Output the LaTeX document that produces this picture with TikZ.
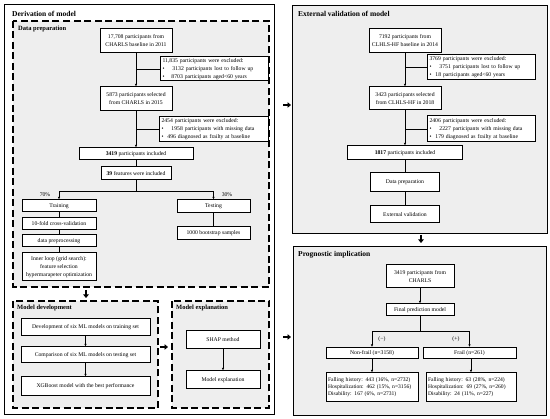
\documentclass[tikz,border=0pt]{standalone}
\usepackage{fontspec}
\setmainfont{Liberation Serif}
\usetikzlibrary{arrows.meta,calc}
\definecolor{panel}{HTML}{EEEEEE}
\newcommand{\bxfont}{\fontsize{5.7}{8}\selectfont}
\newcommand{\bxsfont}{\fontsize{5.6}{7}\selectfont}
\tikzset{
 box/.style={draw, line width=1pt, fill=white, align=center, inner sep=1pt, font=\bxfont},
 exbox/.style={box, align=left, inner xsep=2.5pt},
 dbox/.style={draw, dash pattern=on 7pt off 3.5pt, line width=1.2pt, fill=panel},
 sbox/.style={draw, line width=0.8pt},
 conn/.style={line width=0.5pt},
 arr/.style={conn, -{Latex[length=2.5pt,width=2.2pt]}},
 fat/.style={line width=2.4pt, -{Triangle[width=5.5pt,length=3.5pt]}},
 ttl/.style={anchor=west, font=\fontsize{7.5}{9}\selectfont\bfseries, inner sep=0pt},
 sttl/.style={anchor=west, font=\fontsize{6.5}{8}\selectfont\bfseries, inner sep=0pt},
 lbl/.style={font=\bxfont, inner sep=0pt},
}
\begin{document}
\begin{tikzpicture}[x=1pt,y=-1pt]
\fill[white] (0,0) rectangle (550,419);
\useasboundingbox (0,0) rectangle (550,419);
% section frames
\draw[sbox] (4,4) rectangle (274,414);
\draw[dbox] (13,21) rectangle (269,287);
\draw[dbox] (13,301) rectangle (158,408);
\draw[dbox] (172,301) rectangle (269,408);
\draw[sbox, fill=panel] (292,5) rectangle (547,233);
\draw[sbox, fill=panel] (293,246) rectangle (546,415);
% titles
\node[ttl] (t1) at (12,14) {Derivation of model};
\node[sttl] (t2) at (18,29) {Data preparation};
\node[sttl] (t3) at (17,308) {Model development};
\node[sttl] (t4) at (176,308) {Model explanation};
\node[ttl] (t5) at (298,14) {External validation of model};
\node[ttl] (t6) at (298,255) {Prognostic implication};
% ---------- data preparation ----------
\node[box, minimum width=72pt, minimum height=24pt] (n1) at (136,41) {17,708 participants from\\CHARLS baseline in 2011};
\node[exbox, text width=103pt, minimum height=24pt] (ex1) at (214,69) {11,835 participants were excluded:\\\textbullet\hspace{8pt}3132 participants lost to follow up\\\textbullet\hspace{7pt}8703 participants aged<60 years};
\node[box, minimum width=72pt, minimum height=24pt] (n2) at (136,99) {5873 participants selected\\from CHARLS in 2015};
\node[exbox, text width=104pt, minimum height=25pt] (ex2) at (213.5,129.5) {2454 participants were excluded:\\\textbullet\hspace{8pt}1958 participants with missing data\\\textbullet\hspace{4pt}496 diagnosed as frailty at baseline};
\node[box, minimum width=114pt, minimum height=12pt] (n3) at (136,154) {\textbf{3419} participants included};
\node[box, minimum width=70pt, minimum height=13pt] (n4) at (136,173.5) {\textbf{39} features were included};
\coordinate (s1) at (136,191);
\node[box, minimum width=74pt, minimum height=12pt] (train) at (59,206) {Training};
\node[box, minimum width=74pt, minimum height=12pt] (cv) at (59,224) {10-fold cross-validation};
\node[box, minimum width=74pt, minimum height=12pt] (pre) at (59,241) {data preprocessing};
\node[box, minimum width=74pt, minimum height=28pt] (inner) at (59,267) {Inner loop (grid search):\\feature selection\\hypermarapeter optimization};
\node[box, minimum width=73pt, minimum height=13pt] (test) at (213.5,206.5) {Testing};
\node[box, minimum width=73pt, minimum height=13pt] (boot) at (213.5,233.5) {1000 bootstrap samples};
\node[lbl] (p70) at (45,195) {70\%};
\node[lbl] (p30) at (227,195) {30\%};
\draw[arr] (n1) -- (n2);
\draw[conn] (ex1.west) -- (ex1.west -| n1.south);
\draw[arr] (n2) -- (n3);
\draw[conn] (ex2.west) -- (ex2.west -| n2.south);
\draw[conn] (n3) -- (n4);
\draw[conn] (n4) -- (s1);
\draw[arr] (s1) -| (train);
\draw[arr] (s1) -| (test);
\draw[conn] (train) -- (cv);
\draw[conn] (cv) -- (pre);
\draw[conn] (pre) -- (inner);
\draw[conn] (test) -- (boot);
% ---------- model development ----------
\node[box, minimum width=129pt, minimum height=17pt] (md1) at (85.5,327.5) {Development of six ML models on training set};
\node[box, minimum width=129pt, minimum height=16pt] (md2) at (85.5,355) {Comparison of six ML models on testing set};
\node[box, minimum width=129pt, minimum height=19pt] (md3) at (85.5,386.5) {XGBoost model with the best performance};
\draw[arr] (md1) -- (md2);
\draw[arr] (md2) -- (md3);
% ---------- model explanation ----------
\node[box, minimum width=74pt, minimum height=18pt] (shap) at (223,340) {SHAP method};
\node[box, minimum width=74pt, minimum height=18pt] (mexp) at (223,380) {Model explanation};
\draw[arr] (shap) -- (mexp);
% ---------- external validation ----------
\node[box, minimum width=72pt, minimum height=24pt] (r1) at (405,41) {7192 participants from\\CLHLS-HF baseline in 2014};
\node[exbox, text width=103pt, minimum height=25pt] (rex1) at (481,67.5) {3769 participants were excluded:\\\textbullet\hspace{8pt}3751 participants lost to follow up\\\textbullet\hspace{4pt}18 participants aged<60 years};
\node[box, minimum width=72pt, minimum height=23pt] (r2) at (405,98.5) {3423 participants selected\\from CLHLS-HF in 2018};
\node[exbox, text width=103pt, minimum height=26pt] (rex2) at (481,129) {2406 participants were excluded:\\\textbullet\hspace{8pt}2227 participants with missing data\\\textbullet\hspace{4pt}179 diagnosed as frailty at baseline};
\node[box, minimum width=115pt, minimum height=14pt] (r3) at (405,153) {\textbf{1817} participants included};
\node[box, minimum width=69pt, minimum height=19pt] (r4) at (405,182.5) {Data preparation};
\node[box, minimum width=69pt, minimum height=17pt] (r5) at (405,214.5) {External validation};
\draw[arr] (r1) -- (r2);
\draw[conn] (rex1.west) -- (rex1.west -| r1.south);
\draw[arr] (r2) -- (r3);
\draw[conn] (rex2.west) -- (rex2.west -| r2.south);
\draw[conn] (r3) -- (r4);
\draw[conn] (r4) -- (r5);
% ---------- prognostic implication ----------
\node[box, minimum width=68pt, minimum height=23pt] (p1) at (420,276.5) {3419 participants from\\CHARLS};
\node[box, minimum width=68pt, minimum height=12pt] (p2) at (420,310) {Final prediction model};
\coordinate (s2) at (420,331);
\node[box, minimum width=92pt, minimum height=11pt] (nf) at (372,353) {Non-frail (n=3158)};
\node[box, minimum width=93pt, minimum height=11pt] (fr) at (469.5,353) {Frail (n=261)};
\node[exbox, font=\bxsfont, text width=88pt, inner xsep=2pt, minimum height=29pt] (nfd) at (372,387.5) {Falling history: 443 (16\%, n=2732)\\Hospitalization: 462 (15\%, n=3156)\\Disability: 167 (6\%, n=2731)};
\node[exbox, font=\bxsfont, text width=86pt, inner xsep=2pt, minimum height=29pt] (frd) at (471,387.5) {Falling history: 63 (28\%, n=224)\\Hospitalization: 69 (27\%, n=260)\\Disability: 24 (11\%, n=227)};
\node[lbl] (neg) at (382,339) {(−)};
\node[lbl] (pos) at (456,339) {(+)};
\draw[arr] (p1) -- (p2);
\draw[conn] (p2) -- (s2);
\draw[arr] (s2) -| (nf);
\draw[arr] (s2) -| (fr);
\draw[arr] (nf) -- (nfd);
\draw[arr] (fr.south -| frd.north) -- (frd);
% ---------- fat arrows between sections ----------
\coordinate (fa1) at (86,290); \coordinate (fb1) at (86,298);
\coordinate (fa2) at (160,347); \coordinate (fb2) at (168,347);
\coordinate (fa3) at (283,105); \coordinate (fb3) at (291,105);
\coordinate (fa4) at (421,235); \coordinate (fb4) at (421,243);
\coordinate (fa5) at (283,337); \coordinate (fb5) at (291,337);
\draw[fat] (fa1) -- (fb1);
\draw[fat] (fa2) -- (fb2);
\draw[fat] (fa3) -- (fb3);
\draw[fat] (fa4) -- (fb4);
\draw[fat] (fa5) -- (fb5);
\end{tikzpicture}
\end{document}
